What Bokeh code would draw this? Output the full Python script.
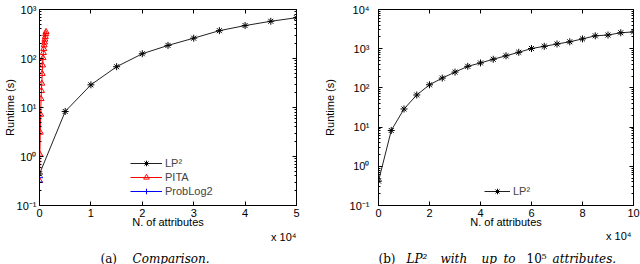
from bokeh.plotting import figure
from bokeh.models import (Range1d, FixedTicker, CustomJSTickFormatter, LinearAxis, LogAxis,
                          Legend, LegendItem, Label)
from bokeh.layouts import row, column
from bokeh.embed import file_html
from bokeh.resources import INLINE

# ---------------- data (panel a: comparison) ----------------
lp2_x_a = [0, 5000, 10000, 15000, 20000, 25000, 30000, 35000, 40000, 45000, 50000]
lp2_y_a = [0.44, 8.3, 29, 68, 125, 185, 260, 370, 470, 575, 680]

pita_x = [0, 75, 150, 225, 300, 375, 450, 525, 600, 675, 750, 825, 900, 975, 1050, 1125, 1200, 1275]
pita_y = [0.32, 1.1, 3.1, 7.2, 15, 22, 31, 49, 73, 103, 131, 158, 187, 214, 245, 278, 318, 350]

problog_x = [0, 0]
problog_y = [0.30, 0.37]

# ---------------- data (panel b: LP2 up to 1e5) ----------------
lp2_x_b = [0, 5000, 10000, 15000, 20000, 25000, 30000, 35000, 40000, 45000, 50000,
           55000, 60000, 65000, 70000, 75000, 80000, 85000, 90000, 95000, 100000]
lp2_y_b = [0.42, 8.2, 29, 66, 120, 178, 253, 355, 433, 538, 660,
           810, 1010, 1150, 1320, 1500, 1780, 2130, 2230, 2550, 2680]

# ---------------- ticks ----------------
x_ticks_a = [0, 10000, 20000, 30000, 40000, 50000]
x_ticks_b = [0, 20000, 40000, 60000, 80000, 100000]
y_ticks_a = [0.1, 1, 10, 100, 1000]
y_ticks_b = [0.1, 1, 10, 100, 1000, 10000]

# ---------------- caption words ----------------
caption_a = [("(a)", "normal"), ("Comparison.", "italic")]
caption_b = [("(b)", "normal"), ("LP\u00b2", "italic"), ("with", "italic"), ("up", "italic"),
             ("to", "italic"), ("10\u2075", "normal"), ("attributes.", "italic")]
caption_a_x = [100, 132]
caption_b_x = [378, 406, 440, 481, 503, 526, 552]

SANS = "Liberation Sans"
SERIF = "DejaVu Serif"

LOG_CODE = """
const e = Math.round(Math.log10(tick));
const sup = {"-": "\u207b", "0": "\u2070", "1": "\u00b9", "2": "\u00b2", "3": "\u00b3", "4": "\u2074", "5": "\u2075"};
return "10" + String(e).split("").map(c => sup[c]).join("");
"""
X_CODE = "return (tick / 1e4).toFixed(0);"
BLANK_CODE = "return '';"


def minor_log(ticks):
    out = []
    for d in ticks[:-1]:
        for k in range(2, 10):
            out.append(k * d)
    return out


def style_axis(ax, show_labels):
    ax.major_tick_in = 4
    ax.major_tick_out = 0
    ax.minor_tick_in = 2
    ax.minor_tick_out = 0
    ax.axis_line_color = "black"
    ax.major_tick_line_color = "black"
    ax.minor_tick_line_color = "black"
    ax.major_label_text_font = SANS
    ax.major_label_text_color = "black"
    ax.axis_label_text_font = SANS
    ax.axis_label_text_font_size = "11px"
    ax.axis_label_text_font_style = "normal"
    ax.axis_label_text_color = "black"
    if show_labels:
        ax.major_label_text_font_size = "11px"
        ax.major_label_standoff = 3
    else:
        ax.major_label_text_font_size = "0px"
        ax.major_label_standoff = 0


def make_fig(fw, fh, bl, br, bt, bb, xr, yr, xt, yt):
    p = figure(width=bl + fw + br, height=bt + fh + bb,
               frame_width=fw, frame_height=fh,
               min_border_left=bl, min_border_right=br,
               min_border_top=bt, min_border_bottom=bb,
               x_range=Range1d(*xr), y_range=Range1d(*yr),
               y_axis_type="log", output_backend="svg", toolbar_location=None)
    p.grid.visible = False
    p.outline_line_color = "black"
    p.background_fill_color = "white"
    p.border_fill_color = "white"

    xa = p.xaxis[0]
    xa.ticker = FixedTicker(ticks=xt, minor_ticks=[])
    xa.formatter = CustomJSTickFormatter(code=X_CODE)
    style_axis(xa, True)
    xa.axis_label = "N. of attributes"
    xa.axis_label_standoff = -4

    ya = p.yaxis[0]
    ya.ticker = FixedTicker(ticks=yt, minor_ticks=minor_log(yt))
    ya.formatter = CustomJSTickFormatter(code=LOG_CODE)
    style_axis(ya, True)
    ya.axis_label = "Runtime (s)"

    top = LinearAxis(ticker=FixedTicker(ticks=xt, minor_ticks=[]),
                     formatter=CustomJSTickFormatter(code=BLANK_CODE))
    style_axis(top, False)
    p.add_layout(top, "above")

    right = LogAxis(ticker=FixedTicker(ticks=yt, minor_ticks=minor_log(yt)),
                    formatter=CustomJSTickFormatter(code=BLANK_CODE))
    style_axis(right, False)
    p.add_layout(right, "right")
    return p


FH = 196
BT = 9
BB = 25

# ---------------- panel a ----------------
pa = make_fig(257, FH, 39, 24, BT, BB, (0, 50000), (0.1, 1000), x_ticks_a, y_ticks_a)
pa.yaxis[0].axis_label_standoff = -2

la = pa.line(lp2_x_a, lp2_y_a, line_color="#222222", line_width=1)
sa = pa.scatter(lp2_x_a, lp2_y_a, marker="asterisk", size=7, line_color="black", line_width=1)
lp = pa.line(pita_x, pita_y, line_color="red", line_width=1)
sp = pa.scatter(pita_x, pita_y, marker="triangle", size=6, line_color="red",
                fill_alpha=0, line_width=1)
lb = pa.line(problog_x, problog_y, line_color="blue", line_width=1)
sb = pa.scatter(problog_x, problog_y, marker="cross", size=7, line_color="blue", line_width=1)

leg_a = Legend(items=[LegendItem(label="LP\u00b2", renderers=[la, sa]),
                      LegendItem(label="PITA", renderers=[lp, sp]),
                      LegendItem(label="ProbLog2", renderers=[lb, sb])],
               location=(91, 7))

# ---------------- panel b ----------------
pb = make_fig(255, FH, 56, 9, BT, BB, (0, 100000), (0.1, 10000), x_ticks_b, y_ticks_b)
pb.yaxis[0].major_label_standoff = 9
pb.yaxis[0].axis_label_standoff = 11
lbb = pb.line(lp2_x_b, lp2_y_b, line_color="#222222", line_width=1)
sbb = pb.scatter(lp2_x_b, lp2_y_b, marker="asterisk", size=7, line_color="black", line_width=1)
leg_b = Legend(items=[LegendItem(label="LP\u00b2", renderers=[lbb, sbb])], location=(106, 7))

for leg, gw in [(leg_a, 32), (leg_b, 26)]:
    leg.border_line_color = None
    leg.background_fill_alpha = 0
    leg.padding = 0
    leg.margin = 0
    leg.spacing = 0
    leg.glyph_width = gw
    leg.glyph_height = 14
    leg.label_height = 14
    leg.label_standoff = 3
    leg.label_text_font = SANS
    leg.label_text_font_size = "11px"
    leg.label_text_baseline = "middle"
pa.add_layout(leg_a)
pb.add_layout(leg_b)

# ---------------- caption strip (texts below both panels) ----------------
CAP_W = 640
CAP_H = 34
cap = figure(width=CAP_W, height=CAP_H, x_range=Range1d(0, CAP_W), y_range=Range1d(CAP_H, 0),
             min_border=0, output_backend="svg", toolbar_location=None)
cap.axis.visible = False
cap.grid.visible = False
cap.outline_line_color = None
cap.background_fill_color = "white"
cap.border_fill_color = "white"


def cap_label(x, y, text, font=SERIF, size="12px", align="left", baseline="alphabetic",
              style="normal"):
    cap.add_layout(Label(x=x, y=y, text=text, text_font=font, text_font_size=size,
                         text_align=align, text_baseline=baseline, text_font_style=style,
                         text_color="black"))


cap_label(296, 6, "x 10\u2074", font=SANS, size="11px", align="right", baseline="middle")
cap_label(631, 5, "x 10\u2074", font=SANS, size="11px", align="right", baseline="middle")
for (txt, st), x in zip(caption_a, caption_a_x):
    cap_label(x, 28, txt, style=st)
for (txt, st), x in zip(caption_b, caption_b_x):
    cap_label(x, 28, txt, style=st)

layout = column(row(pa, pb), cap)
open("out.html", "w").write(file_html(layout, INLINE))
